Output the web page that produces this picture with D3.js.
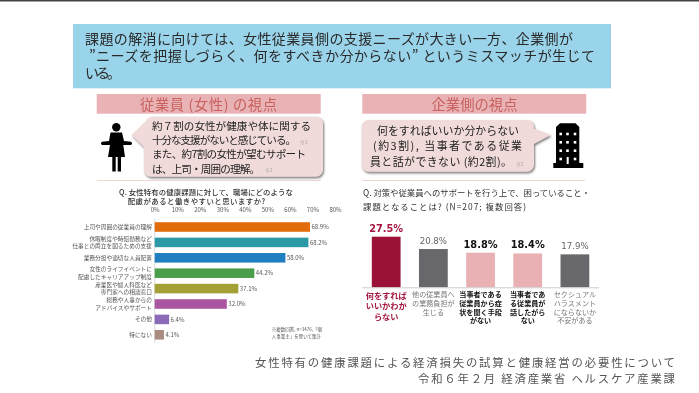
<!DOCTYPE html>
<html lang="ja"><head><meta charset="utf-8">
<script src="https://cdn.jsdelivr.net/npm/d3@7"></script>
<style>html,body{margin:0;padding:0;background:#fff}svg{display:block;filter:blur(.45px)}text{font-family:"Noto Sans CJK JP","Noto Sans",sans-serif}</style>
</head><body><svg id="c" width="699" height="393"></svg>
<script>
const leftCategories=[["上司や周囲の従業員の理解"],["休暇制度や時短勤務など","仕事との両立を図るための支援"],["業務分担や適切な人員配置"],["女性のライフイベントに","配慮したキャリアアップ制度"],["産業医や婦人科医など","専門家への相談窓口"],["総務や人事からの","アドバイスやサポート"],["その他"],["特にない"]];
const leftValues=[68.9,68.2,58.0,44.2,37.1,32.0,6.4,4.1];
const leftColors=["#e36c0a","#2b9aa6","#1f7fc0","#4a9e4a","#a3a035","#a9559f","#8b6bb8","#a98b80"];
const leftTicks=[0,10,20,30,40,50,60,70,80];
const rightCategories=[["何をすれば","いいかわか","らない"],["他の従業員へ","の業務負担が","生じる"],["当事者である","従業員から症","状を聞く手段","がない"],["当事者であ","る従業員が","話したがら","ない"],["セクシュアル","ハラスメント","にならないか","不安がある"]];
const rightValues=[27.5,20.8,18.8,18.4,17.9];
const rightColors=["#9b1237","#68686c","#e9b1b3","#e9b1b3","#68686c"];
const rightLabelColors=["#a5173f","#777","#111","#111","#777"];
const rightValueColors=["#a5173f","#666","#111","#111","#666"];
const rightBold=[true,false,true,true,false];

const svg=d3.select("#c");
const T=(s,x,y,size,fill,anchor="start",weight=400,len=null)=>{const t=svg.append("text").attr("x",x).attr("y",y).attr("font-size",size).attr("fill",fill).attr("text-anchor",anchor).attr("font-weight",weight).text(s);if(len)t.attr("textLength",len).attr("lengthAdjust","spacing");return t;};
const R=(x,y,w,h,f)=>svg.append("rect").attr("x",x).attr("y",y).attr("width",w).attr("height",h).attr("fill",f);

R(0,0,699,1.5,"#444");
R(73,24,538,64.3,"#99d4ea");
T("課題の解消に向けては、女性従業員側の支援ニーズが大きい一方、企業側が",85,43.5,14,"#2a2a2a","start",400,488);
T("”ニーズを把握しづらく、何をすべきか分からない” というミスマッチが生じて",89,60.5,14,"#2a2a2a","start",400,506);
T("いる。",85,78,14,"#2a2a2a","start",400,36);

R(96.7,94,224,19.700,"#e9b3b5");
T("従業員 (女性) の視点",208.500,109.5,14.3,"#c8605e","middle",400,137);
R(362.300,94,224,19.700,"#e9b3b5");
T("企業側の視点",474.500,109.5,14.3,"#c8605e","middle",400,86);

const shadow=svg.append("defs").append("filter").attr("id","s");
shadow.append("feDropShadow").attr("dx",1).attr("dy",1.5).attr("stdDeviation",1).attr("flood-color","#777");
svg.append("path").attr("d","M152 116.7H316a7 7 0 0 1 7 7V169.700a7 7 0 0 1 -7 7H151a7 7 0 0 1 -7 -7V147L131.700 135L146 121a7 7 0 0 1 6 -4.300Z").attr("fill","#f1dada").attr("filter","url(#s)");
T("約７割の女性が健康や体に関する",152,130,10.6,"#222","start",400,159);
T("十分な支援がないと感じている。",152,143.5,10.6,"#222","start",400,144);
T("※1",300,143.5,4.8,"#999");
T("また、約7割の女性が望むサポート",152,158,10.6,"#222","start",400,154);
T("は、上司・周囲の理解。",152,172.5,10.6,"#222","start",400,108);
T("※2",265,172,4.8,"#999");

svg.append("path").attr("d","M368.700 120H527a7 7 0 0 1 7 7V129L550.700 135L534 144V164.700a7 7 0 0 1 -7 7H368.700a7 7 0 0 1 -7 -7V127a7 7 0 0 1 7 -7Z").attr("fill","#f1dada").attr("filter","url(#s)");
T("何をすればいいか分からない",377,135,10.9,"#222","start",400,142);
T("(約3割), 当事者である従業",373,150,10.9,"#222","start",400,149);
T("員と話ができない (約2割)。",370,166,10.9,"#222","start",400,142);
T("※2",516,166,4.8,"#999");

// person icon
const p=svg.append("g").attr("fill","#000");
p.append("circle").attr("cx",116.3).attr("cy",127.3).attr("r",4.2);
p.append("path").attr("d","M110.500 132.500H122L124 141L131 141.800Q133 143.500 131 145L123.300 145L125 157H121V171.500H117.700V157H115.700V171.500H112.300V157H108L110 145L102 145Q100 143.500 102 141.800L109 141Z");
// building icon
const b=svg.append("g");
b.append("path").attr("d","M556 163V127L560 123.300H575.500L579.300 127V163H583.300V168H553.300V163Z").attr("fill","#000");
[[560.7,134],[567.5,134],[575,134],[560.7,142.3],[567.5,142.3],[575,142.3],[560.7,150.7],[567.5,150.7],[575,150.7],[560.7,159],[575,159]].forEach(([x,y])=>R(x-1.3,y-1.3,2.6,2.6,"#fff"));
R(566.7,157,2,7,"#fff");

svg.append("line").attr("x1",97).attr("x2",321).attr("y1",180.5).attr("y2",180.5).attr("stroke","#f3d4d0");
svg.append("line").attr("x1",362).attr("x2",585).attr("y1",180.5).attr("y2",180.5).attr("stroke","#f3d4d0");

// left chart
T("Q. 女性特有の健康課題に対して、職場にどのような",119,195,7.4,"#333","start",500,174);
T("配慮があると働きやすいと思いますか?",127.7,204,7.4,"#333","start",500,137.500);
const x=d3.scaleLinear().domain([0,80]).range([154.7,335]);
const y=d3.scaleBand().domain(d3.range(leftValues.length)).range([219.3,342.5]).paddingInner(0.38).paddingOuter(0.19);
const ax=svg.append("g").attr("transform","translate(0,214.500)").call(d3.axisTop(x).tickValues(leftTicks).tickFormat(d=>d+"%").tickSize(0));
ax.select(".domain").remove();
ax.selectAll("text").attr("font-size",6).attr("fill","#555").attr("dy",0);
svg.append("line").attr("x1",154.7).attr("x2",154.7).attr("y1",219).attr("y2",343).attr("stroke","#ccc").attr("stroke-width",.7);
svg.append("g").selectAll("rect").data(leftValues).join("rect")
 .attr("x",x(0)).attr("y",(d,i)=>y(i)).attr("width",d=>x(d)-x(0)).attr("height",y.bandwidth())
 .attr("fill",(d,i)=>leftColors[i]);
svg.append("g").selectAll("text").data(leftValues).join("text")
 .attr("x",d=>x(d)+1.5).attr("y",(d,i)=>y(i)+y.bandwidth()/2+2.2).attr("font-size",6).attr("fill","#555").text(d=>d.toFixed(1)+"%");
leftCategories.forEach((lines,i)=>{
  const cy=y(i)+y.bandwidth()/2;
  lines.forEach((l,j)=>T(l,152,cy+2+(j-(lines.length-1)/2)*7.5,5.7,"#555","end"));
});
T("※複数回答, n=3476,「個",271.7,331,4.5,"#555");
T("人事業主」を除いて集計",271.7,337.5,4.5,"#555");

// right chart
T("Q. 対策や従業員へのサポートを行う上で、困っていること・",363,195.500,8.4,"#333","start",400,227);
T("課題となることは? (N=207; 複数回答)",363,210,8.4,"#333","start",400,163);
const xr=d3.scaleBand().domain(d3.range(rightValues.length)).range([362.600,598.500]).paddingInner(0.39).paddingOuter(0.195);
const yr=d3.scaleLinear().domain([0,27.5]).range([287.3,236.7]);
svg.append("g").selectAll("rect").data(rightValues).join("rect")
 .attr("x",(d,i)=>xr(i)).attr("y",d=>yr(d)).attr("width",xr.bandwidth()).attr("height",d=>yr(0)-yr(d)).attr("fill",(d,i)=>rightColors[i]);
svg.append("line").attr("x1",362).attr("x2",599).attr("y1",287.8).attr("y2",287.8).attr("stroke","#ccc");
svg.append("g").selectAll("text").data(rightValues).join("text")
 .attr("x",(d,i)=>xr(i)+xr.bandwidth()/2).attr("y",d=>yr(d)-5)
 .attr("text-anchor","middle")
 .attr("style",(d,i)=>`font-family:'DejaVu Sans';font-size:${rightBold[i]?9.800:8.600}px;font-weight:${rightBold[i]?700:400}`)
 .attr("fill",(d,i)=>rightValueColors[i]).text(d=>d.toFixed(1)+"%");
rightCategories.forEach((lines,i)=>{
  const cx=xr(i)+xr.bandwidth()/2;
  lines.forEach((l,j)=>T(l,cx,i==0?298.5+j*10.5:297+j*8.8,i==0?8.2:7.1,rightLabelColors[i],"middle",rightBold[i]?700:400));
});

// footer
T("女性特有の健康課題による経済損失の試算と健康経営の必要性について",255,366.5,11.4,"#555","start",400,420);
T("令和６年２月 経済産業省 ヘルスケア産業課",418,382.5,11.4,"#555","start",400,257);
</script></body></html>
